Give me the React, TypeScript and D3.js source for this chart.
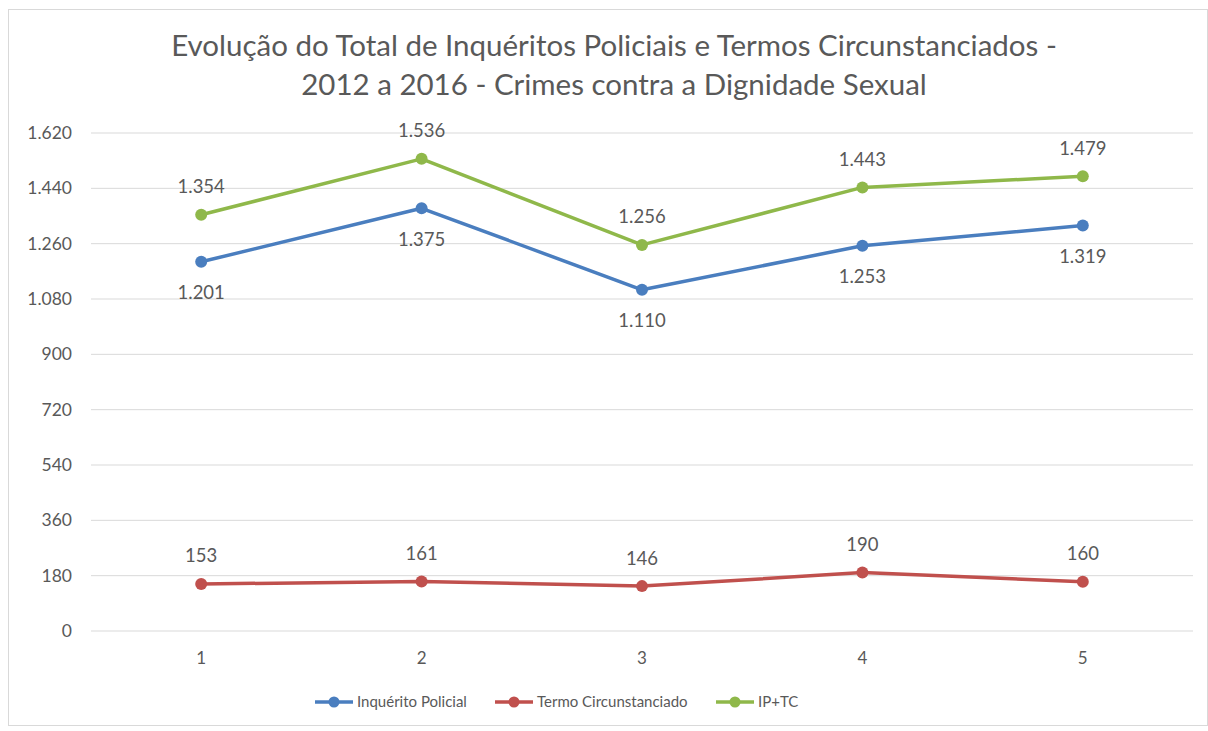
import { useMemo } from 'react';
import * as d3 from 'd3';

const CATEGORIES = ['1', '2', '3', '4', '5'];
const INQUERITO = [1201, 1375, 1110, 1253, 1319];
const TERMO = [153, 161, 146, 190, 160];
const IPTC = [1354, 1536, 1256, 1443, 1479];
const Y_TICKS = [0, 180, 360, 540, 720, 900, 1080, 1260, 1440, 1620];
const TITLE_LINES = [
  'Evolução do Total de Inquéritos Policiais e Termos Circunstanciados -',
  '2012 a 2016 - Crimes contra a Dignidade Sexual',
];

const SERIES = [
  { name: 'Inquérito Policial', values: INQUERITO, color: '#4a7ebf', labelPos: 'below' },
  { name: 'Termo Circunstanciado', values: TERMO, color: '#c0504d', labelPos: 'above' },
  { name: 'IP+TC', values: IPTC, color: '#8fb84a', labelPos: 'above' },
];

const WIDTH = 1208;
const HEIGHT = 731;
const FONT = 'Lato, "Open Sans", sans-serif';
const TEXT = '#595959';

const fmt = (v: number) => d3.format(',')(v).replace(/,/g, '.');

export default function App() {
  const x = useMemo(
    () => d3.scaleBand<string>().domain(CATEGORIES).range([91, 1193]),
    []
  );
  const y = useMemo(() => d3.scaleLinear().domain([0, 1620]).range([631, 133]), []);
  const cx = (c: string) => (x(c) ?? 0) + x.bandwidth() / 2;

  const line = d3
    .line<number>()
    .x((_, i) => cx(CATEGORIES[i]))
    .y((d) => y(d));

  const legendItems = [
    { x: 315, s: SERIES[0] },
    { x: 495, s: SERIES[1] },
    { x: 716, s: SERIES[2] },
  ];

  return (
    <svg
      width={WIDTH}
      height={HEIGHT}
      style={{ position: 'absolute', left: 0, top: 0, background: '#fff' }}
      fontFamily={FONT}
    >
      <rect x={8.5} y={9.5} width={1199} height={716} fill="#fff" stroke="#d9d9d9" />

      {TITLE_LINES.map((t, i) => (
        <text
          key={i}
          x={614}
          y={56 + i * 39}
          textAnchor="middle"
          fontSize={29.5}
          fill={TEXT}
        >
          {t}
        </text>
      ))}

      {Y_TICKS.map((t) => (
        <g key={t}>
          <line x1={91} x2={1193} y1={y(t)} y2={y(t)} stroke="#d9d9d9" strokeWidth={1} />
          <text x={72} y={y(t)} dy="0.35em" textAnchor="end" fontSize={17.5} fill={TEXT}>
            {fmt(t)}
          </text>
        </g>
      ))}

      {CATEGORIES.map((c) => (
        <text key={c} x={cx(c)} y={658} dy="0.35em" textAnchor="middle" fontSize={17} fill={TEXT}>
          {c}
        </text>
      ))}

      {SERIES.map((s) => (
        <g key={s.name}>
          <path d={line(s.values) ?? ''} fill="none" stroke={s.color} strokeWidth={3.5} strokeLinejoin="round" />
          {s.values.map((v, i) => (
            <g key={i}>
              <circle cx={cx(CATEGORIES[i])} cy={y(v)} r={6} fill={s.color} />
              <text
                x={cx(CATEGORIES[i])}
                y={y(v) + (s.labelPos === 'above' ? -28 : 31)}
                dy="0.35em"
                textAnchor="middle"
                fontSize={18.5}
                fill={TEXT}
              >
                {fmt(v)}
              </text>
            </g>
          ))}
        </g>
      ))}

      {legendItems.map(({ x: lx, s }) => (
        <g key={s.name}>
          <line x1={lx} x2={lx + 38} y1={702} y2={702} stroke={s.color} strokeWidth={3.5} />
          <circle cx={lx + 19} cy={702} r={5.5} fill={s.color} />
          <text x={lx + 42} y={702} dy="0.35em" fontSize={15} fill={TEXT}>
            {s.name}
          </text>
        </g>
      ))}
    </svg>
  );
}
